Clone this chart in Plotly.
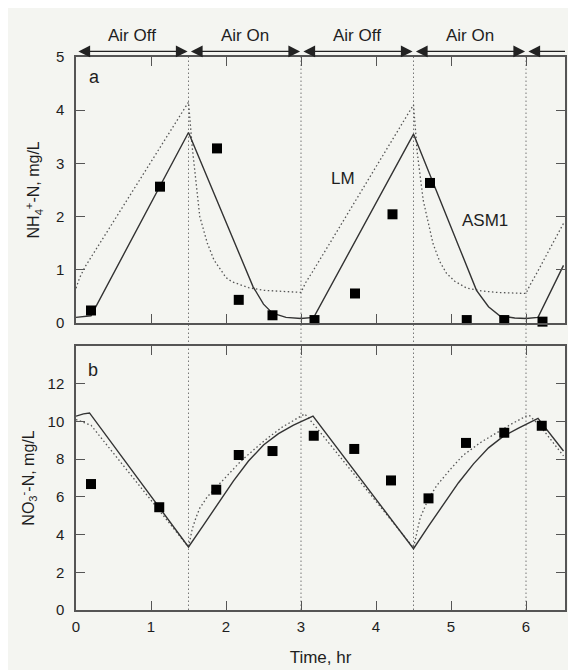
import plotly.graph_objects as go

# ---- data ----
# Observed NH4+-N (panel a)
obs_nh4_t = [0.20, 1.12, 1.88, 2.17, 2.62, 3.18, 3.72, 4.22, 4.72, 5.21, 5.71, 6.22]
obs_nh4_y = [0.23, 2.56, 3.28, 0.43, 0.14, 0.05, 0.55, 2.04, 2.63, 0.05, 0.05, 0.02]

# ASM1 model NH4+ (solid)
asm_nh4_t = [0.0, 0.2, 1.5, 2.1, 2.36, 2.5, 2.62, 2.8, 3.0, 3.17, 4.5, 5.1, 5.34, 5.5, 5.65, 5.85, 6.0, 6.16, 6.5]
asm_nh4_y = [0.10, 0.13, 3.58, 1.56, 0.68, 0.35, 0.18, 0.10, 0.08, 0.10, 3.55, 1.45, 0.61, 0.30, 0.13, 0.09, 0.08, 0.10, 1.08]

# LM model NH4+ (dotted)
lm_nh4_t = [0.0, 0.05, 0.12, 1.5, 1.55, 1.6, 1.65, 1.75, 1.84, 2.0, 2.08, 2.3, 2.5, 2.75, 3.0,
            3.06, 3.15, 4.5, 4.55, 4.63, 4.7, 4.76, 4.85, 4.94, 5.05, 5.21, 5.4, 5.61, 6.0,
            6.05, 6.15, 6.5]
lm_nh4_y = [0.65, 0.85, 1.05, 4.15, 3.30, 2.60, 2.00, 1.50, 1.18, 0.85, 0.77, 0.66, 0.61, 0.59, 0.57,
            0.75, 0.95, 4.10, 3.20, 2.30, 1.85, 1.49, 1.15, 0.93, 0.78, 0.65, 0.60, 0.57, 0.55,
            0.70, 0.95, 1.87]

# Observed NO3--N (panel b)
obs_no3_t = [0.20, 1.11, 1.87, 2.17, 2.62, 3.17, 3.71, 4.20, 4.70, 5.20, 5.71, 6.21]
obs_no3_y = [6.68, 5.45, 6.38, 8.22, 8.43, 9.24, 8.54, 6.87, 5.92, 8.86, 9.40, 9.77]

# ASM1 model NO3- (solid)
asm_no3_t = [0.0, 0.1, 0.18, 1.5, 1.7, 1.9, 2.1, 2.3, 2.5, 2.7, 2.9, 3.16,
             4.5, 4.7, 4.9, 5.1, 5.3, 5.5, 5.7, 5.9, 6.16, 6.5]
asm_no3_y = [10.28, 10.40, 10.45, 3.34, 4.50, 5.70, 6.85, 7.90, 8.75, 9.35, 9.80, 10.28,
             3.25, 4.45, 5.60, 6.75, 7.75, 8.60, 9.22, 9.65, 10.16, 8.43]

# LM model NO3- (dotted)
lm_no3_t = [0.0, 0.2, 1.5, 1.55, 1.6, 1.65, 1.75, 1.89, 2.05, 2.2, 2.4, 2.55, 2.75, 3.0, 3.05,
            3.2, 4.5, 4.55, 4.59, 4.7, 4.81, 5.0, 5.16, 5.4, 5.61, 5.8, 6.0, 6.05, 6.2, 6.5]
lm_no3_y = [10.10, 9.80, 3.34, 4.30, 4.90, 5.40, 6.00, 6.60, 7.30, 7.90, 8.60, 9.10, 9.70, 10.30, 10.40,
            9.70, 3.30, 4.20, 4.90, 5.90, 6.60, 7.50, 8.20, 8.90, 9.40, 9.85, 10.28, 10.30, 9.70, 8.17]

# Aeration phases
phase_labels = ["Air Off", "Air On", "Air Off", "Air On"]
phase_bounds = [0.0, 1.5, 3.0, 4.5, 6.0]
x_end = 6.52

FONT = "Liberation Sans, Arial, Helvetica, sans-serif"
TXT = "#1e1e1e"
AX = "#555555"
BG = "#f4f5f1"
DOT = "1.5px,2.5px"

fig = go.Figure()

# panel a
fig.add_trace(go.Scatter(x=lm_nh4_t, y=lm_nh4_y, mode="lines",
                         line=dict(color="#555555", width=1.3, dash=DOT),
                         xaxis="x", yaxis="y", showlegend=False))
fig.add_trace(go.Scatter(x=asm_nh4_t, y=asm_nh4_y, mode="lines",
                         line=dict(color="#333333", width=1.4),
                         xaxis="x", yaxis="y", showlegend=False))
fig.add_trace(go.Scatter(x=obs_nh4_t, y=obs_nh4_y, mode="markers",
                         marker=dict(symbol="square", size=10, color="#000000"),
                         xaxis="x", yaxis="y", showlegend=False, cliponaxis=False))
# panel b
fig.add_trace(go.Scatter(x=lm_no3_t, y=lm_no3_y, mode="lines",
                         line=dict(color="#555555", width=1.3, dash=DOT),
                         xaxis="x2", yaxis="y2", showlegend=False))
fig.add_trace(go.Scatter(x=asm_no3_t, y=asm_no3_y, mode="lines",
                         line=dict(color="#333333", width=1.4),
                         xaxis="x2", yaxis="y2", showlegend=False))
fig.add_trace(go.Scatter(x=obs_no3_t, y=obs_no3_y, mode="markers",
                         marker=dict(symbol="square", size=10, color="#000000"),
                         xaxis="x2", yaxis="y2", showlegend=False))

axis_common = dict(showline=True, linecolor=AX, linewidth=1.5, mirror="ticks",
                   ticks="inside", ticklen=9, tickcolor=AX, tickwidth=1.3,
                   showgrid=False, zeroline=False, automargin=False,
                   tickfont=dict(family=FONT, size=15, color=TXT))

# page body adds an 8px offset, so the figure is 8px smaller and margins shifted
fig.update_layout(
    width=568, height=662,
    margin=dict(l=68, r=11, t=49, b=60),
    paper_bgcolor=BG, plot_bgcolor=BG,
    font=dict(family=FONT, color=TXT, size=15),
    xaxis=dict(domain=[0, 1], range=[0, x_end], anchor="y",
               tickvals=[1, 2, 3, 4, 5, 6], showticklabels=False, **axis_common),
    yaxis=dict(domain=[0.5195, 1.0], range=[0, 5], anchor="x",
               tickvals=[0, 1, 2, 3, 4, 5], ticklabelstandoff=7,
               title=dict(text="NH<sub>4</sub><sup>+</sup>-N, mg/L", standoff=12,
                          font=dict(family=FONT, size=16, color=TXT)),
               **axis_common),
    xaxis2=dict(domain=[0, 1], range=[0, x_end], anchor="y2",
                tickvals=[0, 1, 2, 3, 4, 5, 6], ticklabelstandoff=2,
                title=dict(text="Time, hr", standoff=17,
                           font=dict(family=FONT, size=17, color=TXT)),
                **axis_common),
    yaxis2=dict(domain=[0, 0.4774], range=[0, 14], anchor="x2",
                tickvals=[0, 2, 4, 6, 8, 10, 12], ticklabelstandoff=7,
                title=dict(text="NO<sub>3</sub><sup>-</sup>-N, mg/L", standoff=9,
                           font=dict(family=FONT, size=16, color=TXT)),
                **axis_common),
)

# vertical dotted phase boundaries spanning both panels
shapes = []
for b in phase_bounds[1:]:
    shapes.append(dict(type="line", xref="x", yref="paper", x0=b, x1=b, y0=0, y1=1,
                       line=dict(color="#777777", width=1, dash=DOT), layer="below"))
fig.update_layout(shapes=shapes)

annotations = []
arrow_y = 1.021   # in top panel's y-domain units (just above frame)
label_y = 1.080
for i, lab in enumerate(phase_labels):
    a, b = phase_bounds[i], phase_bounds[i + 1]
    annotations.append(dict(xref="x", yref="y domain", x=(a + b) / 2, y=label_y, text=lab,
                            xanchor="center", yanchor="middle",
                            showarrow=False, font=dict(family=FONT, size=17, color=TXT)))
    annotations.append(dict(xref="x", yref="y domain", axref="x", ayref="y domain",
                            x=b - 0.012, y=arrow_y, ax=a + 0.012, ay=arrow_y, text="",
                            showarrow=True, arrowside="end+start", arrowhead=2, startarrowhead=2,
                            arrowsize=1.8, startarrowsize=1.8, arrowwidth=1.3, arrowcolor="#222222"))
annotations.append(dict(xref="x", yref="y domain", axref="x", ayref="y domain",
                        x=x_end, y=arrow_y, ax=phase_bounds[-1] + 0.012, ay=arrow_y, text="",
                        showarrow=True, arrowside="start", startarrowhead=2,
                        startarrowsize=1.8, arrowwidth=1.3, arrowcolor="#222222"))
# panel letters and model labels
annotations += [
    dict(xref="x", yref="y", x=0.25, y=4.62, text="a", showarrow=False,
         font=dict(family=FONT, size=18, color=TXT)),
    dict(xref="x2", yref="y2", x=0.23, y=12.74, text="b", showarrow=False,
         font=dict(family=FONT, size=18, color=TXT)),
    dict(xref="x", yref="y", x=3.56, y=2.71, text="LM", showarrow=False,
         font=dict(family=FONT, size=17, color=TXT)),
    dict(xref="x", yref="y", x=5.45, y=1.93, text="ASM1", showarrow=False,
         font=dict(family=FONT, size=17, color=TXT)),
]
fig.update_layout(annotations=annotations)

fig.write_html("out.html")
